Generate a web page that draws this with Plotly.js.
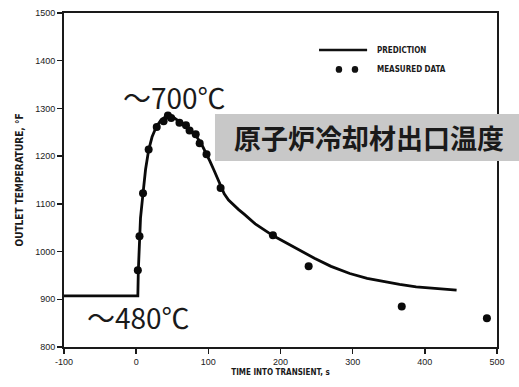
<!DOCTYPE html>
<html>
<head>
<meta charset="utf-8">
<script src="https://cdn.plot.ly/plotly-3.0.1.min.js"></script>
<style>
  html, body { margin: 0; padding: 0; background: #fff; }
  #chart { width: 519px; height: 387px; }
</style>
</head>
<body>
<div id="chart"></div>
<script>
// Prediction curve (time s, outlet temperature °F)
const predT = [-100, 2.3, 3, 4.6, 6, 9.5, 13, 17.3, 22, 28, 34, 40, 46, 52, 60, 68, 76, 84, 90, 97, 102, 108, 113, 117, 122, 128, 135, 142, 150, 165, 190, 220, 247, 270, 296, 320, 342, 365, 388, 415, 444];
const predV = [907, 907, 960, 1032, 1070, 1122, 1172, 1213, 1240, 1262, 1275, 1282, 1284, 1281, 1273, 1264, 1254, 1240, 1227, 1207, 1190, 1170, 1152, 1136, 1121, 1108, 1097, 1088, 1078, 1058, 1033, 1008, 986, 969, 954, 944, 937, 931, 926, 922, 919];

// Measured data
const measT = [2.3, 4.6, 9.5, 17.3, 28.5, 38, 44, 48.5, 60, 69, 74, 82.5, 88, 97.5, 117, 189.5, 239, 368, 486];
const measV = [961, 1032, 1122, 1214, 1261, 1273, 1285, 1280, 1270, 1265, 1254, 1246, 1227, 1204, 1133, 1034, 969, 885, 860];

const xTicks = [-100, 0, 100, 200, 300, 400, 500];
const yTicks = [800, 900, 1000, 1100, 1200, 1300, 1400, 1500];

const labelTitle = '原子炉冷却材出口温度';
const labelHigh = '～700℃';
const labelLow = '～480℃';
const legendPred = 'PREDICTION';
const legendMeas = 'MEASURED DATA';
const xTitle = 'TIME INTO TRANSIENT, s';
const yTitle = 'OUTLET TEMPERATURE, °F';

const tickFont = { family: 'Liberation Sans, Arial, sans-serif', size: 9, color: '#1a1a1a' };
const smallFont = { family: 'Liberation Sans Narrow, DejaVu Sans Condensed, Liberation Sans, sans-serif', size: 8, color: '#1a1a1a', weight: 'bold' };
const bigFont = { family: 'Noto Sans CJK JP, sans-serif', size: 28, color: '#1a1a1a' };

const traces = [
  {
    x: predT, y: predV, type: 'scatter', mode: 'lines', name: legendPred,
    line: { color: '#0a0a0a', width: 2.8 }, showlegend: false, hoverinfo: 'skip'
  },
  {
    x: measT, y: measV, type: 'scatter', mode: 'markers', name: legendMeas,
    marker: { color: '#0a0a0a', size: 8 }, showlegend: false, hoverinfo: 'skip'
  }
];

const layout = {
  width: 519, height: 387,
  margin: { l: 64, r: 22, t: 13, b: 40 },
  paper_bgcolor: '#fff', plot_bgcolor: '#fff',
  showlegend: false,
  xaxis: {
    range: [-100, 500], tickvals: xTicks, ticktext: xTicks.map(String),
    showgrid: false, zeroline: false,
    showline: true, linecolor: '#1a1a1a', linewidth: 2, mirror: true,
    ticks: 'outside', ticklen: 5, tickwidth: 1.5, tickcolor: '#1a1a1a',
    tickfont: tickFont,
    title: { text: xTitle, font: smallFont, standoff: 4 }
  },
  yaxis: {
    range: [800, 1500], tickvals: yTicks, ticktext: yTicks.map(String),
    showgrid: false, zeroline: false,
    showline: true, linecolor: '#1a1a1a', linewidth: 2, mirror: true,
    ticks: 'outside', ticklen: 5, tickwidth: 1.5, tickcolor: '#1a1a1a',
    tickfont: tickFont,
    title: { text: yTitle, font: Object.assign({}, smallFont, { size: 10 }), standoff: 10 }
  },
  shapes: [
    { type: 'rect', xref: 'paper', yref: 'paper', x0: 0.3487, x1: 1.06, y0: 0.557, y1: 0.6976,
      fillcolor: '#c8c8c8', line: { width: 0 }, layer: 'above' },
    { type: 'line', xref: 'paper', yref: 'paper', x0: 0.589, x1: 0.700, y0: 0.889, y1: 0.889,
      line: { color: '#111', width: 2.5 } },
    { type: 'circle', xref: 'paper', yref: 'paper', x0: 0.6275, x1: 0.6425, y0: 0.8212, y1: 0.8412,
      fillcolor: '#111', line: { width: 0 } },
    { type: 'circle', xref: 'paper', yref: 'paper', x0: 0.6645, x1: 0.6795, y0: 0.8212, y1: 0.8412,
      fillcolor: '#111', line: { width: 0 } }
  ],
  annotations: [
    { text: labelTitle, xref: 'paper', yref: 'paper', x: 0.7036, y: 0.627, xanchor: 'center', yanchor: 'middle',
      showarrow: false, font: Object.assign({}, bigFont, { size: 27, weight: 'bold' }) },
    { text: labelHigh, xref: 'paper', yref: 'paper', x: 0.2552, y: 0.748, xanchor: 'center', yanchor: 'middle',
      showarrow: false, font: bigFont },
    { text: labelLow, xref: 'paper', yref: 'paper', x: 0.172, y: 0.091, xanchor: 'center', yanchor: 'middle',
      showarrow: false, font: bigFont },
    { text: legendPred, xref: 'paper', yref: 'paper', x: 0.7182, y: 0.889, xanchor: 'left', yanchor: 'middle',
      showarrow: false, font: smallFont },
    { text: legendMeas, xref: 'paper', yref: 'paper', x: 0.7182, y: 0.8312, xanchor: 'left', yanchor: 'middle',
      showarrow: false, font: smallFont }
  ]
};

Plotly.newPlot('chart', traces, layout, { displayModeBar: false, staticPlot: true });
</script>
</body>
</html>
